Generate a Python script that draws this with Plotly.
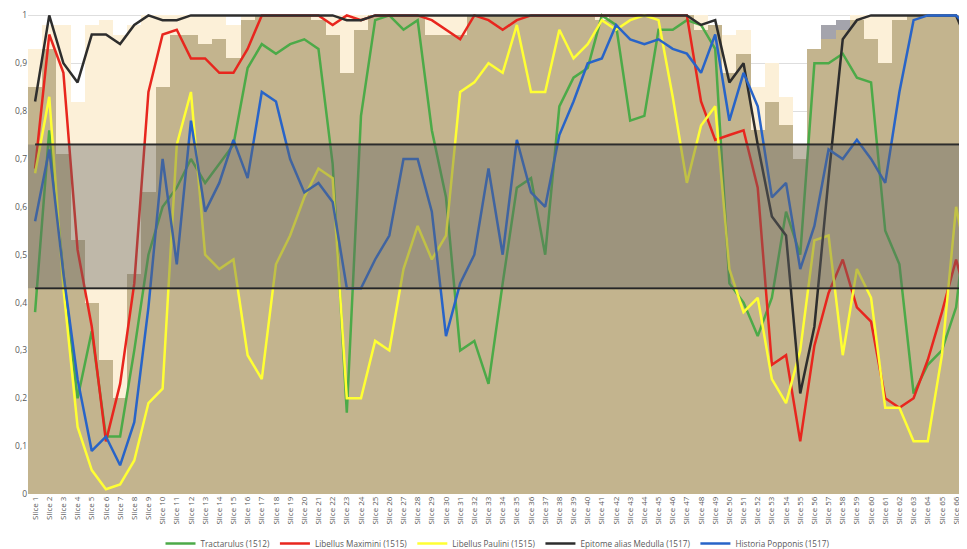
import plotly.graph_objects as go

slices = [f"Slice {i}" for i in range(1, 68)]
xs = list(range(1, 68))

tractarulus = [0.38, 0.76, 0.46, 0.20, 0.34, 0.12, 0.12, 0.30, 0.50, 0.60,
               0.64, 0.70, 0.65, 0.69, 0.73, 0.89, 0.94, 0.92, 0.94, 0.95,
               0.93, 0.69, 0.17, 0.79, 0.99, 1.00, 0.97, 0.99, 0.76, 0.62,
               0.30, 0.32, 0.23, 0.44, 0.64, 0.66, 0.50, 0.81, 0.87, 0.89,
               1.00, 0.98, 0.78, 0.79, 0.97, 0.97, 0.99, 0.98, 0.93, 0.44,
               0.40, 0.33, 0.41, 0.59, 0.50, 0.90, 0.90, 0.92, 0.87, 0.86,
               0.55, 0.48, 0.21, 0.27, 0.30, 0.39, 0.65]
maximini = [0.68, 0.96, 0.88, 0.51, 0.35, 0.11, 0.23, 0.44, 0.84, 0.96,
            0.97, 0.91, 0.91, 0.88, 0.88, 0.93, 1.00, 1.00, 1.00, 1.00,
            1.00, 0.98, 1.00, 0.99, 1.00, 1.00, 1.00, 1.00, 0.99, 0.97,
            0.95, 1.00, 0.99, 0.97, 0.99, 1.00, 1.00, 1.00, 1.00, 1.00,
            1.00, 1.00, 1.00, 1.00, 1.00, 1.00, 1.00, 0.82, 0.74, 0.75,
            0.76, 0.64, 0.27, 0.29, 0.11, 0.31, 0.42, 0.49, 0.39, 0.36,
            0.20, 0.18, 0.20, 0.28, 0.38, 0.49, 0.38]
paulini = [0.67, 0.83, 0.43, 0.14, 0.05, 0.01, 0.02, 0.07, 0.19, 0.22,
           0.73, 0.84, 0.50, 0.47, 0.49, 0.29, 0.24, 0.48, 0.54, 0.62,
           0.68, 0.66, 0.20, 0.20, 0.32, 0.30, 0.47, 0.56, 0.49, 0.54,
           0.84, 0.86, 0.90, 0.88, 0.98, 0.84, 0.84, 0.97, 0.91, 0.94,
           0.99, 0.97, 0.99, 1.00, 0.99, 0.83, 0.65, 0.77, 0.81, 0.47,
           0.38, 0.41, 0.24, 0.19, 0.30, 0.53, 0.54, 0.29, 0.47, 0.41,
           0.18, 0.18, 0.11, 0.11, 0.29, 0.60, 0.45]
epitome = [0.82, 1.00, 0.90, 0.86, 0.96, 0.96, 0.94, 0.98, 1.00, 0.99,
           0.99, 1.00, 1.00, 1.00, 1.00, 1.00, 1.00, 1.00, 1.00, 1.00,
           1.00, 1.00, 0.99, 0.99, 1.00, 1.00, 1.00, 1.00, 1.00, 1.00,
           1.00, 1.00, 1.00, 1.00, 1.00, 1.00, 1.00, 1.00, 1.00, 1.00,
           1.00, 1.00, 1.00, 1.00, 1.00, 1.00, 1.00, 0.98, 0.99, 0.86,
           0.90, 0.73, 0.58, 0.54, 0.21, 0.35, 0.66, 0.95, 0.99, 1.00,
           1.00, 1.00, 1.00, 1.00, 1.00, 1.00, 0.93]
popponis = [0.57, 0.72, 0.46, 0.24, 0.09, 0.12, 0.06, 0.15, 0.39, 0.70,
            0.48, 0.78, 0.59, 0.65, 0.74, 0.66, 0.84, 0.82, 0.70, 0.63,
            0.65, 0.61, 0.43, 0.43, 0.49, 0.54, 0.70, 0.70, 0.59, 0.33,
            0.44, 0.50, 0.68, 0.50, 0.74, 0.63, 0.60, 0.75, 0.82, 0.90,
            0.91, 0.98, 0.95, 0.94, 0.95, 0.93, 0.92, 0.88, 0.96, 0.78,
            0.88, 0.81, 0.62, 0.65, 0.47, 0.56, 0.72, 0.70, 0.74, 0.70,
            0.65, 0.84, 0.99, 1.00, 1.00, 1.00, 0.97]

# background columns
cream_bars = [0.93, 0.98, 0.98, 0.82, 0.98, 0.99, 0.96, 0.98, 1.00, 1.00,
              1.00, 1.00, 1.00, 1.00, 0.98, 1.00, 1.00, 1.00, 1.00, 1.00,
              1.00, 1.00, 1.00, 1.00, 1.00, 1.00, 1.00, 1.00, 1.00, 1.00,
              1.00, 1.00, 1.00, 1.00, 1.00, 1.00, 1.00, 1.00, 1.00, 1.00,
              1.00, 1.00, 1.00, 1.00, 1.00, 1.00, 1.00, 1.00, 0.98, 0.96,
              0.97, 0.85, 0.90, 0.83, 0.73, 0.90, 0.90, 0.90, 1.00, 1.00,
              1.00, 1.00, 1.00, 1.00, 1.00, 1.00, 1.00]
gray_bars = [0] * 56 + [0.98, 0.99] + [0] * 9
tan_bars = [0.85, 0.93, 0.71, 0.53, 0.40, 0.28, 0.20, 0.46, 0.63, 0.85,
            0.96, 0.96, 0.94, 0.95, 0.91, 0.99, 1.00, 1.00, 1.00, 1.00,
            0.99, 0.96, 0.88, 0.97, 1.00, 1.00, 1.00, 1.00, 0.96, 0.96,
            0.96, 1.00, 1.00, 1.00, 1.00, 1.00, 1.00, 1.00, 1.00, 1.00,
            0.99, 1.00, 1.00, 1.00, 1.00, 1.00, 1.00, 0.97, 0.98, 0.88,
            0.92, 0.76, 0.82, 0.77, 0.70, 0.93, 0.95, 0.97, 0.99, 0.95,
            0.90, 0.99, 1.00, 1.00, 1.00, 1.00, 1.00]

thresholds = [0.43, 0.73]

series = [
    ("Tractarulus (1512)", tractarulus, "rgb(76,170,72)"),
    ("Libellus Maximini (1515)", maximini, "rgb(232,38,30)"),
    ("Libellus Paulini (1515)", paulini, "rgb(255,255,51)"),
    ("Epitome alias Medulla (1517)", epitome, "rgb(45,45,45)"),
    ("Historia Popponis (1517)", popponis, "rgb(40,100,200)"),
]

fig = go.Figure()
for vals, col in [(cream_bars, "rgb(252,240,216)"), (gray_bars, "rgb(164,164,172)"),
                  (tan_bars, "rgb(195,180,142)")]:
    fig.add_trace(go.Bar(x=xs, y=vals, marker=dict(color=col, line=dict(width=0)),
                         showlegend=False, hoverinfo="skip"))

for name, vals, col in series:
    fig.add_trace(go.Scatter(x=xs, y=vals, mode="lines", name=name,
                             line=dict(color=col, width=2.5)))

for t in thresholds:
    fig.add_trace(go.Scatter(x=xs, y=[t] * len(xs), mode="lines", showlegend=False,
                             line=dict(color="rgb(30,30,30)", width=2), hoverinfo="skip"))

fig.add_shape(type="rect", xref="paper", yref="y", x0=0, x1=1,
              y0=thresholds[0], y1=thresholds[1],
              fillcolor="rgba(100,100,100,0.4)", line=dict(width=0), layer="above")

fig.update_layout(
    width=959, height=541,
    margin=dict(l=20, r=0, t=5, b=55),
    paper_bgcolor="white", plot_bgcolor="white",
    barmode="overlay", bargap=0,
    separators=", ",
    font=dict(family="Open Sans", size=8, color="#595959"),
    xaxis=dict(range=[0.5, 66.77], tickvals=xs, ticktext=slices, tickangle=-90,
               showgrid=False, zeroline=False, showline=False, automargin=False,
               tickfont=dict(size=8, color="#595959"), ticks=""),
    yaxis=dict(range=[0, 1.005], dtick=0.1, tick0=0, showgrid=True, automargin=False,
               gridcolor="rgb(222,222,222)", gridwidth=1, zeroline=False,
               showline=False, tickfont=dict(size=8.5, color="#595959"), ticks=""),
    legend=dict(orientation="h", x=0.5, xanchor="center", yref="container",
                y=0.037, yanchor="top", font=dict(size=8.2, color="#595959"),
                itemwidth=30, tracegroupgap=0, bgcolor="rgba(0,0,0,0)"),
)

fig.write_html("out.html")
